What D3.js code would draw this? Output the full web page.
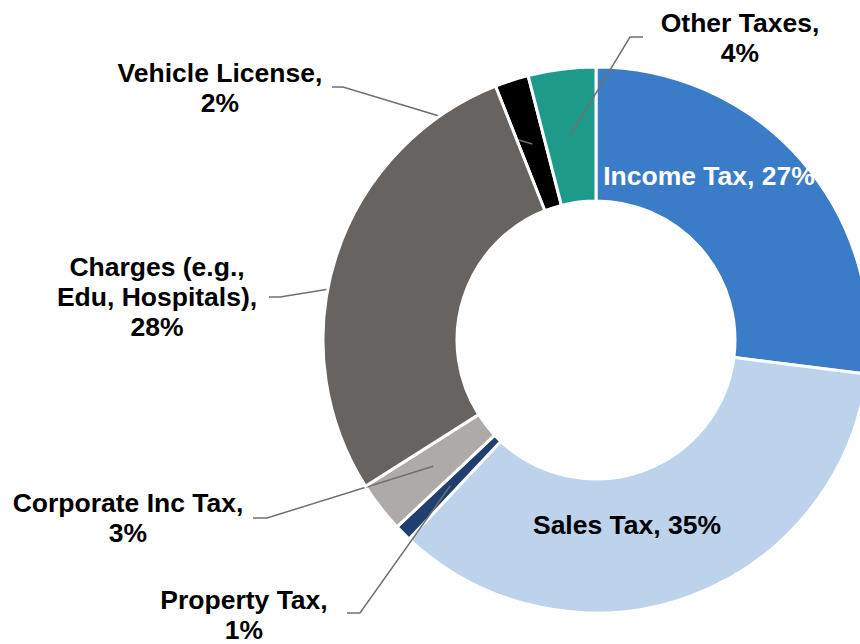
<html>
<head>
<meta charset="utf-8">
<script src="https://d3js.org/d3.v7.min.js"></script>
<style>
  body { margin: 0; background: white; }
  svg text { font-family: 'Liberation Sans', Arial, sans-serif; font-weight: bold; font-size: 26.5px; }
</style>
</head>
<body>
<svg width="860" height="644"></svg>
<script>
// data
const categories = ["Income Tax", "Sales Tax", "Property Tax", "Corporate Inc Tax",
                    "Charges (e.g., Edu, Hospitals)", "Vehicle License", "Other Taxes"];
const shares = [27, 35, 1, 3, 28, 2, 4];
const labelLines = [
  ["Income Tax, 27%"],
  ["Sales Tax, 35%"],
  ["Property Tax,", "1%"],
  ["Corporate Inc Tax,", "3%"],
  ["Charges (e.g.,", "Edu, Hospitals),", "28%"],
  ["Vehicle License,", "2%"],
  ["Other Taxes,", "4%"]
];
const colors = ["#3a7cc8", "#bdd2eb", "#1f3f6e", "#adaaa8", "#676360", "#000000", "#1e9a8b"];

// label layout (text centre x, first baseline y, leader elbow and tail)
const layout = [
  { x: 709, y: 185, fill: "white" },
  { x: 627, y: 534, fill: "black" },
  { x: 244, y: 609, elbow: [360, 613], tail: 347, frac: 0.5, rad: "mid" },
  { x: 128, y: 512, elbow: [267, 518], tail: 253, frac: 0.5, rad: "mid" },
  { x: 157, y: 276, elbow: [280, 297], tail: 269, frac: 0.43, rad: "outer" },
  { x: 220, y: 82, elbow: [343, 87], tail: 332, frac: 0.5, rad: "mid" },
  { x: 740, y: 32, elbow: [630, 37], tail: 643, frac: 0.5, rad: "mid" }
];

const cx = 596, cy = 340, rIn = 139, rOut = 273, lineH = 30;

const svg = d3.select("svg");
const g = svg.append("g").attr("transform", `translate(${cx},${cy})`);

const pie = d3.pie().sort(null).value(d => d);
const arcs = pie(shares);
const arc = d3.arc().innerRadius(rIn).outerRadius(rOut);

g.selectAll("path.slice")
  .data(arcs)
  .enter()
  .append("path")
  .attr("class", "slice")
  .attr("d", arc)
  .attr("fill", (d, i) => colors[i])
  .attr("stroke", "white")
  .attr("stroke-width", 3);

// leader lines
arcs.forEach((a, i) => {
  const L = layout[i];
  if (!L.elbow) return;
  const ang = a.startAngle + (a.endAngle - a.startAngle) * L.frac;
  const r = L.rad === "outer" ? rOut - 3 : (rIn + rOut) / 2;
  const px = cx + r * Math.sin(ang), py = cy - r * Math.cos(ang);
  svg.append("polyline")
    .attr("points", [[px, py], L.elbow, [L.tail, L.elbow[1]]].map(p => p.join(",")).join(" "))
    .attr("fill", "none")
    .attr("stroke", "#707070")
    .attr("stroke-width", 1.5);
});

// the big Charges slice sits over the Vehicle License leader, as in the original
svg.append("g")
  .attr("transform", `translate(${cx},${cy})`)
  .append("path")
  .attr("d", arc(arcs[4]))
  .attr("fill", colors[4])
  .attr("stroke", "white")
  .attr("stroke-width", 3);

// labels
layout.forEach((L, i) => {
  const t = svg.append("text")
    .attr("text-anchor", "middle")
    .attr("fill", L.fill || "black");
  labelLines[i].forEach((s, k) => {
    t.append("tspan").attr("x", L.x).attr("y", L.y + k * lineH).text(s);
  });
});
</script>
</body>
</html>
